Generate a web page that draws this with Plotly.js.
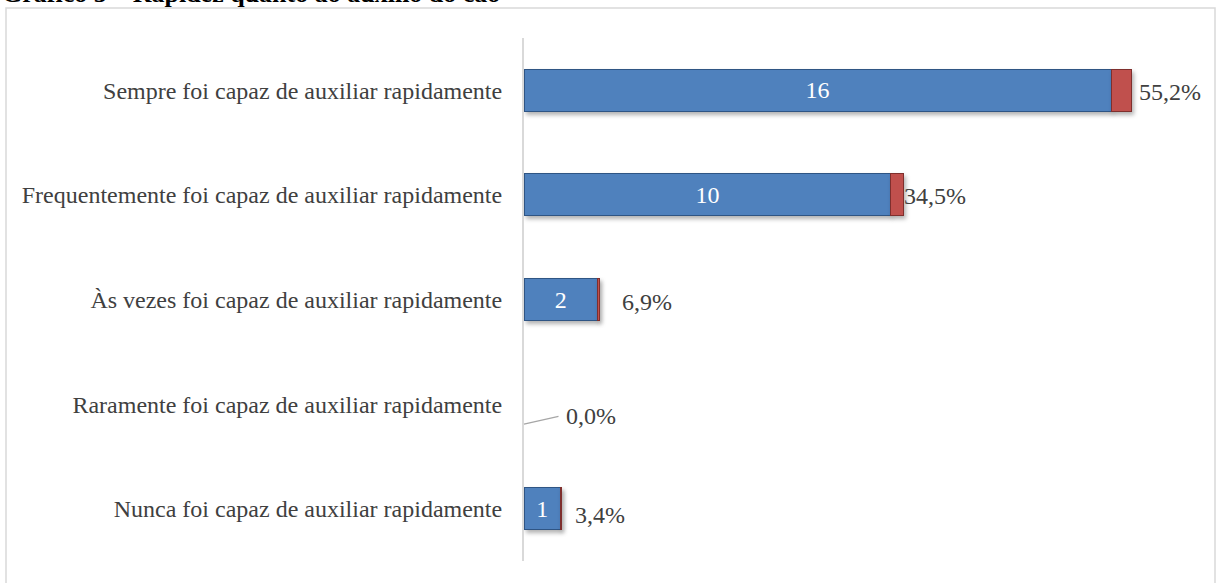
<!DOCTYPE html>
<html>
<head>
<meta charset="utf-8">
<script src="https://cdn.plot.ly/plotly-3.0.1.min.js"></script>
<style>
html,body{margin:0;padding:0;background:#fff;}
#chart{width:1217px;height:583px;}
#chart .bars .point path{filter:drop-shadow(2px 3px 2px rgba(0,0,0,0.3));}
</style>
</head>
<body>
<div id="chart"></div>
<script>
// Data (top categories first)
const categories = [
  "Sempre foi capaz de auxiliar rapidamente",
  "Frequentemente foi capaz de auxiliar rapidamente",
  "Às vezes foi capaz de auxiliar rapidamente",
  "Raramente foi capaz de auxiliar rapidamente",
  "Nunca foi capaz de auxiliar rapidamente"
];
const counts = [16, 10, 2, 0, 1];
const shares = [0.552, 0.345, 0.069, 0.000, 0.034];
const chartTitle = "Gráfico 5 – Rapidez quanto ao auxílio do cão";

// label pixel offsets (style only)
const pctXShift = [6, -2, 20, 40, 11];
const pctYShift = [-2, -1, -2, -12, -6];

const fmtPct = v => (v * 100).toFixed(1).replace('.', ',') + '%';

const blue = {
  type: 'bar', orientation: 'h',
  y: categories, x: counts,
  width: 0.4,
  marker: {color: '#4F81BD', line: {color: '#2F5584', width: counts.map(v => v > 0 ? 1 : 0)}},
  text: counts.map(c => c > 0 ? String(c) : ''),
  textposition: 'inside', insidetextanchor: 'middle',
  textfont: {family: 'Liberation Serif, serif', size: 24, color: '#ffffff'},
  hoverinfo: 'skip', cliponaxis: false
};
const red = {
  type: 'bar', orientation: 'h',
  y: categories, x: shares,
  width: 0.4,
  marker: {color: '#C0504D', line: {color: '#7F2F2D', width: shares.map(v => v > 0 ? 1 : 0)}},
  hoverinfo: 'skip', cliponaxis: false
};

const annotations = categories.map((c, i) => ({
  x: counts[i] + shares[i], y: c, xref: 'x', yref: 'y',
  text: fmtPct(shares[i]),
  showarrow: false, xanchor: 'left', yanchor: 'middle',
  xshift: pctXShift[i], yshift: pctYShift[i],
  font: {family: 'Liberation Serif, serif', size: 24, color: '#404040'}
}));
// leader line for the zero label
annotations.push({
  x: counts[3] + shares[3], y: categories[3], xref: 'x', yref: 'y',
  text: '', showarrow: true, arrowhead: 0, arrowwidth: 1.2, arrowcolor: '#a6a6a6',
  ax: 36, ay: -8, yshift: -20
});
annotations.push({
  x: 0, y: 1, xref: 'paper', yref: 'paper',
  text: '<b>' + chartTitle + '</b>', showarrow: false,
  xanchor: 'left', yanchor: 'bottom',
  xshift: -524, yshift: 28,
  font: {family: 'Liberation Serif, serif', size: 26, color: '#000000'}
});

const layout = {
  width: 1217, height: 583,
  margin: {l: 524, r: 17, t: 38, b: 22, pad: 0},
  paper_bgcolor: '#ffffff', plot_bgcolor: '#ffffff',
  barmode: 'stack',
  showlegend: false,
  xaxis: {range: [0, 18.42], visible: false, showgrid: false, zeroline: false, fixedrange: true},
  yaxis: {
    type: 'category', autorange: 'reversed',
    showline: true, linecolor: '#d9d9d9', linewidth: 2,
    showgrid: false, zeroline: false, ticks: '',
    ticklabelstandoff: 15,
    tickfont: {family: 'Liberation Serif, serif', size: 24, color: '#404040'},
    fixedrange: true
  },
  annotations: annotations,
  shapes: [{
    type: 'rect', xref: 'paper', yref: 'paper',
    x0: (6 - 524) / 676, x1: (1215 - 524) / 676,
    y0: -0.06, y1: 1 + 30 / 523,
    line: {color: '#d9d9d9', width: 1.5}, fillcolor: 'rgba(0,0,0,0)', layer: 'below'
  }]
};

Plotly.newPlot('chart', [blue, red], layout, {displayModeBar: false, staticPlot: true});
</script>
</body>
</html>
